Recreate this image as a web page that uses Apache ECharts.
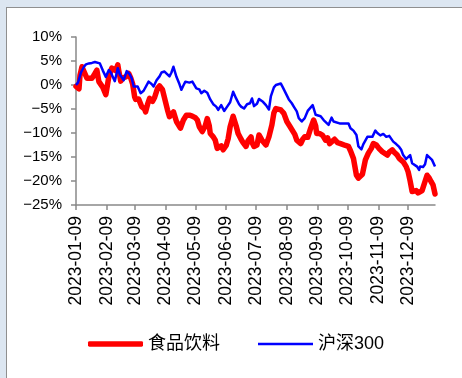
<!DOCTYPE html>
<html>
<head>
<meta charset="utf-8">
<script src="https://cdn.jsdelivr.net/npm/echarts@6/dist/echarts.min.js"></script>
<style>
  html, body { margin: 0; padding: 0; width: 462px; height: 378px; overflow: hidden; background: #dce6f1; }
  #panel { position: absolute; left: 6px; top: 7px; width: 470px; height: 390px; background: #ffffff; border: 1px solid #8f8f8f; }
  #chart { position: absolute; left: 0; top: 0; width: 462px; height: 378px; }
</style>
</head>
<body>
<div id="panel"></div>
<div id="chart"></div>
<script>
// Cumulative return (%) since 2023-01-09
const seriesNames = ['食品饮料', '沪深300'];

const foodDates = [
  '2023-01-09','2023-01-12','2023-01-13','2023-01-15','2023-01-17','2023-01-20','2023-01-22','2023-01-25','2023-01-27','2023-01-30',
  '2023-02-01','2023-02-03','2023-02-05','2023-02-08','2023-02-09','2023-02-11','2023-02-14','2023-02-16','2023-02-18','2023-02-20',
  '2023-02-21','2023-02-23','2023-02-25','2023-02-28','2023-03-03','2023-03-05','2023-03-07','2023-03-09','2023-03-10','2023-03-13',
  '2023-03-16','2023-03-19','2023-03-20','2023-03-22','2023-03-24','2023-03-27','2023-03-29','2023-04-01','2023-04-03','2023-04-06',
  '2023-04-08','2023-04-11','2023-04-13','2023-04-15','2023-04-17','2023-04-20','2023-04-24','2023-04-27','2023-04-30','2023-05-03',
  '2023-05-06','2023-05-09','2023-05-11','2023-05-13','2023-05-16','2023-05-19','2023-05-21','2023-05-23','2023-05-24','2023-05-27',
  '2023-05-29','2023-05-31','2023-06-02','2023-06-04','2023-06-06','2023-06-09','2023-06-11','2023-06-13','2023-06-16','2023-06-19',
  '2023-06-21','2023-06-24','2023-06-26','2023-06-29','2023-07-01','2023-07-04','2023-07-05','2023-07-07','2023-07-10','2023-07-12',
  '2023-07-15','2023-07-19','2023-07-22','2023-07-25','2023-07-27','2023-07-29','2023-07-31','2023-08-03','2023-08-06','2023-08-09',
  '2023-08-12','2023-08-14','2023-08-17','2023-08-19','2023-08-23','2023-08-25','2023-08-27','2023-08-30','2023-09-02','2023-09-05',
  '2023-09-07','2023-09-08','2023-09-11','2023-09-14','2023-09-17','2023-09-19','2023-09-21','2023-09-23','2023-09-26','2023-09-29',
  '2023-10-02','2023-10-04','2023-10-07','2023-10-10','2023-10-12','2023-10-15','2023-10-18','2023-10-20','2023-10-21','2023-10-24',
  '2023-10-27','2023-10-30','2023-11-02','2023-11-04','2023-11-07','2023-11-10','2023-11-13','2023-11-15','2023-11-18','2023-11-20',
  '2023-11-23','2023-11-25','2023-11-28','2023-11-30','2023-12-02','2023-12-04','2023-12-07','2023-12-09','2023-12-11','2023-12-13',
  '2023-12-15','2023-12-17','2023-12-19','2023-12-21','2023-12-23','2023-12-25','2023-12-28','2023-12-30','2024-01-01','2024-01-03',
  '2024-01-05'
];
const foodValues = [
  -0.3, -0.8, 2.0, 3.8, 3.4, 1.4, 1.3, 1.4, 2.0, 3.1,
  0.7, 0.3, -0.5, -2.0, -0.8, 1.7, 3.5, 3.8, 3.0, 4.2,
  3.0, 0.8, 1.5, 1.7, 2.4, 1.5, 0.2, -2.5, -3.0, -2.9,
  -4.5, -5.0, -5.6, -4.0, -2.8, -3.4, -2.6, -0.7, -0.2, -1.0,
  -2.7, -5.2, -6.6, -6.9, -5.6, -7.6, -9.0, -7.3, -6.3, -6.3,
  -6.5, -6.8, -7.3, -8.7, -9.7, -8.5, -7.0, -8.5, -10.1, -10.8,
  -11.5, -13.2, -13.2, -12.7, -13.5, -12.6, -11.2, -8.7, -6.5, -8.5,
  -10.1, -11.3, -12.0, -12.8, -11.6, -10.8, -12.0, -12.8, -12.5, -10.4,
  -11.5, -12.5, -10.8, -8.3, -5.8, -4.9, -5.0, -5.2, -5.9, -7.6,
  -8.6, -9.0, -10.3, -11.5, -12.2, -11.3, -10.8, -10.9, -9.0, -7.3,
  -8.5, -10.1, -10.1, -10.5, -11.5, -11.0, -12.2, -12.3, -11.3, -12.0,
  -12.2, -12.4, -12.6, -12.8, -13.7, -15.3, -18.8, -19.4, -19.4, -18.6,
  -15.6, -14.2, -13.2, -12.2, -12.5, -13.3, -13.9, -14.2, -14.6, -14.0,
  -13.5, -14.0, -14.6, -15.3, -15.6, -16.0, -17.0, -18.1, -20.0, -22.2,
  -21.8, -22.0, -22.5, -22.7, -22.0, -21.8, -18.8, -19.3, -20.1, -20.8,
  -22.7
];

const hs300Dates = [
  '2023-01-09','2023-01-11','2023-01-14','2023-01-17','2023-01-19','2023-01-22','2023-01-25','2023-01-28','2023-01-30','2023-02-02',
  '2023-02-05','2023-02-08','2023-02-11','2023-02-13','2023-02-15','2023-02-17','2023-02-20','2023-02-22','2023-02-26','2023-03-01',
  '2023-03-04','2023-03-06','2023-03-08','2023-03-10','2023-03-12','2023-03-15','2023-03-18','2023-03-23','2023-03-26','2023-03-28',
  '2023-03-31','2023-04-03','2023-04-05','2023-04-08','2023-04-10','2023-04-13','2023-04-15','2023-04-17','2023-04-20','2023-04-23',
  '2023-04-25','2023-04-27','2023-04-29','2023-05-03','2023-05-06','2023-05-08','2023-05-10','2023-05-13','2023-05-15','2023-05-18',
  '2023-05-21','2023-05-24','2023-05-27','2023-05-30','2023-06-01','2023-06-04','2023-06-07','2023-06-10','2023-06-13','2023-06-16',
  '2023-06-19','2023-06-22','2023-06-24','2023-06-27','2023-06-30','2023-07-03','2023-07-05','2023-07-07','2023-07-10','2023-07-12',
  '2023-07-16','2023-07-19','2023-07-22','2023-07-24','2023-07-27','2023-07-29','2023-07-31','2023-08-03','2023-08-05','2023-08-07',
  '2023-08-11','2023-08-14','2023-08-16','2023-08-19','2023-08-21','2023-08-24','2023-08-27','2023-08-30','2023-09-01','2023-09-04',
  '2023-09-07','2023-09-09','2023-09-12','2023-09-15','2023-09-17','2023-09-20','2023-09-23','2023-09-25','2023-09-27','2023-10-01',
  '2023-10-05','2023-10-10','2023-10-12','2023-10-15','2023-10-18','2023-10-20','2023-10-23','2023-10-25','2023-10-29','2023-10-31',
  '2023-11-03','2023-11-06','2023-11-08','2023-11-11','2023-11-14','2023-11-17','2023-11-20','2023-11-24','2023-11-27','2023-11-30',
  '2023-12-02','2023-12-04','2023-12-07','2023-12-11','2023-12-13','2023-12-15','2023-12-18','2023-12-20','2023-12-21','2023-12-24',
  '2023-12-26','2023-12-28','2023-12-30','2024-01-02','2024-01-05'
];
const hs300Values = [
  0.0, 0.5, 2.6, 3.8, 4.3, 4.5, 4.6, 4.8, 4.9, 4.5,
  3.0, 1.7, 3.1, 2.6, 2.2, 0.8, 3.5, 2.2, 1.0, 2.9,
  2.2, 1.4, -0.3, -0.5, -0.3, -1.7, -1.2, 0.7, 0.2, -0.3,
  1.0, 1.8, 2.6, 2.8, 2.4, 1.8, 2.6, 3.8, 1.7, 0.2,
  -1.0, -0.1, 0.7, 0.5, 0.7, 1.1, -0.7, -0.9, -1.7, -1.2,
  -1.6, -3.0, -4.0, -4.5, -5.2, -4.2, -5.4, -4.5, -3.6, -1.4,
  -2.8, -4.0, -4.5, -4.9, -4.0, -3.8, -2.8, -4.4, -3.9, -2.9,
  -3.5, -4.2, -5.1, -2.3, -0.5, 0.0, -0.3, 0.3, -0.5, -0.6,
  -3.0, -3.8, -4.5, -5.5, -6.9, -7.6, -6.9, -5.4, -5.0, -4.2,
  -6.2, -6.3, -6.5, -7.3, -7.6, -8.3, -6.8, -7.6, -8.0, -8.0,
  -8.0, -8.0, -9.0, -9.5, -10.4, -12.8, -13.4, -12.3, -10.8, -10.6,
  -10.8, -9.5, -10.0, -10.5, -10.2, -10.8, -10.6, -11.8, -12.3, -12.9,
  -13.5, -14.6, -15.4, -14.6, -16.3, -16.7, -17.0, -17.7, -17.0, -17.1,
  -16.5, -14.6, -15.0, -15.6, -17.0
];

// Axis settings
const yMin = -25, yMax = 10, yStep = 5;
const xStart = '2023-01-09', xEnd = '2024-01-05';
const tickDates = [
  '2023-01-09','2023-02-09','2023-03-09','2023-04-09','2023-05-09','2023-06-09',
  '2023-07-09','2023-08-09','2023-09-09','2023-10-09','2023-11-09','2023-12-09'
];

function toTime(s) {
  const p = s.split('-').map(Number);
  return new Date(p[0], p[1] - 1, p[2]).getTime();
}
function pairs(dates, values) {
  return dates.map((d, i) => [toTime(d), values[i]]);
}
function pad(n) { return (n < 10 ? '0' : '') + n; }
function fmtDate(t) {
  const d = new Date(t);
  return d.getFullYear() + '-' + pad(d.getMonth() + 1) + '-' + pad(d.getDate());
}

const axisGray = '#898989';
const fontLatin = '"Liberation Sans", Arial, "Noto Sans CJK SC", sans-serif';
const tickTimes = tickDates.map(toTime);
const colors = ['#ff0000', '#0000ff'];
const widths = [5.5, 2.5];

// one legend block per series so each swatch can carry its own thickness
function legendFor(i, left) {
  return {
    data: [seriesNames[i]],
    left: left,
    top: 335,
    padding: 0,
    icon: i === 0 ? 'roundRect' : 'rect',
    itemWidth: 55,
    itemHeight: widths[i],
    itemStyle: { color: colors[i] },
    textStyle: { color: '#000', fontSize: 18, fontFamily: fontLatin }
  };
}

const chart = echarts.init(document.getElementById('chart'), null, { renderer: 'canvas' });
chart.setOption({
  backgroundColor: 'transparent',
  animation: false,
  grid: { left: 76, right: 27, top: 37, bottom: 173, containLabel: false },
  legend: [legendFor(0, 88), legendFor(1, 258)],
  xAxis: {
    // dates are plotted as timestamps on a linear scale
    type: 'value',
    min: toTime(xStart),
    max: toTime(xEnd),
    axisLine: { show: true, onZero: false, lineStyle: { color: axisGray, width: 1.5 } },
    axisTick: { show: true, customValues: tickTimes, length: 5, inside: false, lineStyle: { color: axisGray, width: 1.5 } },
    axisLabel: {
      customValues: tickTimes,
      rotate: 90,
      margin: 11,
      color: '#000',
      fontSize: 17.5,
      fontFamily: fontLatin,
      formatter: (v) => fmtDate(v)
    },
    splitLine: { show: false }
  },
  yAxis: {
    type: 'value',
    min: yMin,
    max: yMax,
    interval: yStep,
    axisLine: { show: true, lineStyle: { color: axisGray, width: 1.5 } },
    axisTick: { show: true, length: 5, lineStyle: { color: axisGray, width: 1.5 } },
    axisLabel: {
      margin: 14,
      color: '#000',
      fontSize: 15,
      fontFamily: fontLatin,
      formatter: (v) => (v < 0 ? '\u2212' : '') + Math.abs(v) + '%'
    },
    splitLine: { show: false }
  },
  series: [
    {
      name: seriesNames[0],
      type: 'line',
      data: pairs(foodDates, foodValues),
      symbol: 'none',
      lineStyle: { color: colors[0], width: widths[0], join: 'round', cap: 'round' },
      itemStyle: { color: colors[0] }
    },
    {
      name: seriesNames[1],
      type: 'line',
      data: pairs(hs300Dates, hs300Values),
      symbol: 'none',
      lineStyle: { color: colors[1], width: widths[1], join: 'round' },
      itemStyle: { color: colors[1] }
    }
  ]
});
</script>
</body>
</html>
